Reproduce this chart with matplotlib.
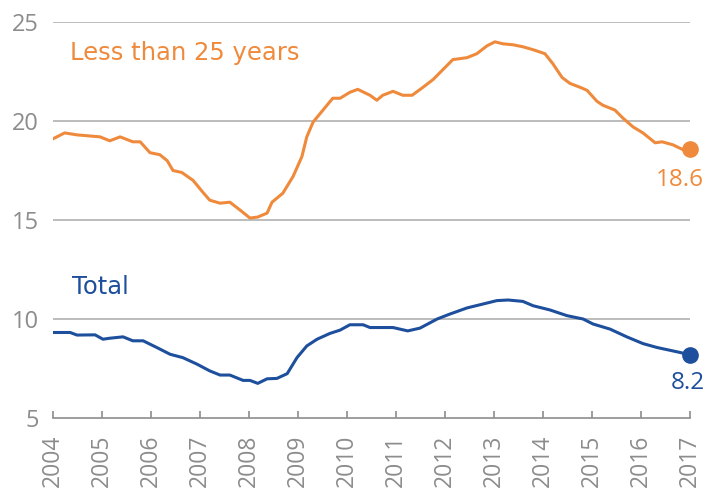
import matplotlib
matplotlib.use("Agg")
import matplotlib.pyplot as plt

# youth (<25) and total unemployment rate, %
young_x = [2004.00, 2004.24, 2004.49, 2004.96, 2005.16, 2005.37, 2005.63, 2005.78,
           2005.98, 2006.18, 2006.33, 2006.45, 2006.63, 2006.86, 2007.06, 2007.20,
           2007.41, 2007.61, 2007.82, 2008.02, 2008.18, 2008.37, 2008.47, 2008.69,
           2008.90, 2009.08, 2009.18, 2009.31, 2009.51, 2009.71, 2009.86, 2010.06,
           2010.22, 2010.47, 2010.61, 2010.73, 2010.94, 2011.14, 2011.33, 2011.55,
           2011.76, 2011.96, 2012.16, 2012.45, 2012.65, 2012.86, 2013.02, 2013.18,
           2013.39, 2013.59, 2013.80, 2014.04, 2014.20, 2014.39, 2014.55, 2014.76,
           2014.90, 2015.10, 2015.22, 2015.47, 2015.63, 2015.84, 2016.04, 2016.29,
           2016.43, 2016.65, 2016.86, 2017.00]
young_y = [19.1, 19.4, 19.3, 19.2, 19.0, 19.2, 18.95, 18.95,
           18.4, 18.3, 18.0, 17.5, 17.4, 17.0, 16.4, 16.0,
           15.85, 15.9, 15.5, 15.1, 15.15, 15.35, 15.9, 16.35,
           17.2, 18.2, 19.2, 19.95, 20.55, 21.15, 21.15, 21.45,
           21.6, 21.3, 21.05, 21.3, 21.5, 21.3, 21.3, 21.7,
           22.1, 22.6, 23.1, 23.2, 23.4, 23.8, 24.0, 23.9,
           23.85, 23.75, 23.6, 23.4, 22.9, 22.2, 21.9, 21.7,
           21.55, 21.0, 20.8, 20.55, 20.15, 19.7, 19.4, 18.9,
           18.95, 18.8, 18.55, 18.6]

total_x = [2004.00, 2004.35, 2004.49, 2004.86, 2005.02, 2005.16, 2005.43, 2005.63,
           2005.84, 2006.12, 2006.39, 2006.65, 2006.94, 2007.20, 2007.41, 2007.61,
           2007.88, 2008.02, 2008.18, 2008.37, 2008.57, 2008.78, 2008.98, 2009.18,
           2009.39, 2009.65, 2009.86, 2010.06, 2010.33, 2010.47, 2010.94, 2011.24,
           2011.49, 2011.84, 2012.10, 2012.45, 2012.78, 2013.06, 2013.29, 2013.59,
           2013.80, 2014.14, 2014.49, 2014.82, 2015.02, 2015.37, 2015.71, 2016.04,
           2016.33, 2016.65, 2017.00]
total_y = [9.32, 9.32, 9.19, 9.2, 8.98, 9.03, 9.1, 8.9,
           8.9, 8.56, 8.22, 8.05, 7.72, 7.38, 7.17, 7.17,
           6.9, 6.9, 6.75, 6.98, 7.0, 7.24, 8.05, 8.64,
           8.98, 9.27, 9.44, 9.71, 9.71, 9.57, 9.57, 9.4,
           9.54, 10.0, 10.25, 10.56, 10.76, 10.93, 10.96, 10.89,
           10.67, 10.46, 10.17, 10.0, 9.75, 9.49, 9.1, 8.76,
           8.56, 8.39, 8.2]

years = list(range(2004, 2018))
yticks = [5, 10, 15, 20, 25]

ORANGE = "#ef8a3c"
BLUE = "#1d4f9d"
GREY = "#8c8c8c"

plt.rcParams["font.family"] = ["Open Sans", "DejaVu Sans"]

fig = plt.figure(figsize=(7.11, 4.98), dpi=100)
ax = fig.add_axes([0.0745, 0.1606, 0.8959, 0.7952])

for v in yticks[1:]:
    ax.axhline(v, color="#b0b0b0", lw=1.2, zorder=0)

ax.plot(young_x, young_y, color=ORANGE, lw=2.2, solid_joinstyle="round")
ax.plot(total_x, total_y, color=BLUE, lw=2.2, solid_joinstyle="round")
ax.plot(young_x[-1], young_y[-1], "o", color=ORANGE, ms=11, clip_on=False, zorder=5)
ax.plot(total_x[-1], total_y[-1], "o", color=BLUE, ms=11, clip_on=False, zorder=5)

ax.text(2004.35, 23.45, "Less than 25 years", color=ORANGE, fontsize=17.5,
        family="DejaVu Sans", va="center", ha="left")
ax.text(2004.39, 11.6, "Total", color=BLUE, fontsize=17.5, family="DejaVu Sans",
        va="center", ha="left")
ax.text(2016.8, 17.0, f"{young_y[-1]:.1f}", color=ORANGE, fontsize=17.5,
        va="center", ha="center")
ax.text(2016.95, 6.75, f"{total_y[-1]:.1f}", color=BLUE, fontsize=17.5,
        va="center", ha="center")

ax.set_xlim(2004, 2017)
ax.set_ylim(5, 25)
ax.set_xticks(years)
ax.set_xticklabels([str(y) for y in years], rotation=90, color=GREY, fontsize=16.5)
ax.set_yticks(yticks)
ax.set_yticklabels([str(v) for v in yticks], color=GREY, fontsize=17)

for s in ("top", "right", "left"):
    ax.spines[s].set_visible(False)
ax.spines["bottom"].set_color(GREY)
ax.spines["bottom"].set_linewidth(1.2)
ax.tick_params(axis="x", direction="in", length=5, width=1.2, color=GREY, pad=12)
ax.tick_params(axis="y", length=0, pad=10)

fig.savefig("out.png", dpi=100)
